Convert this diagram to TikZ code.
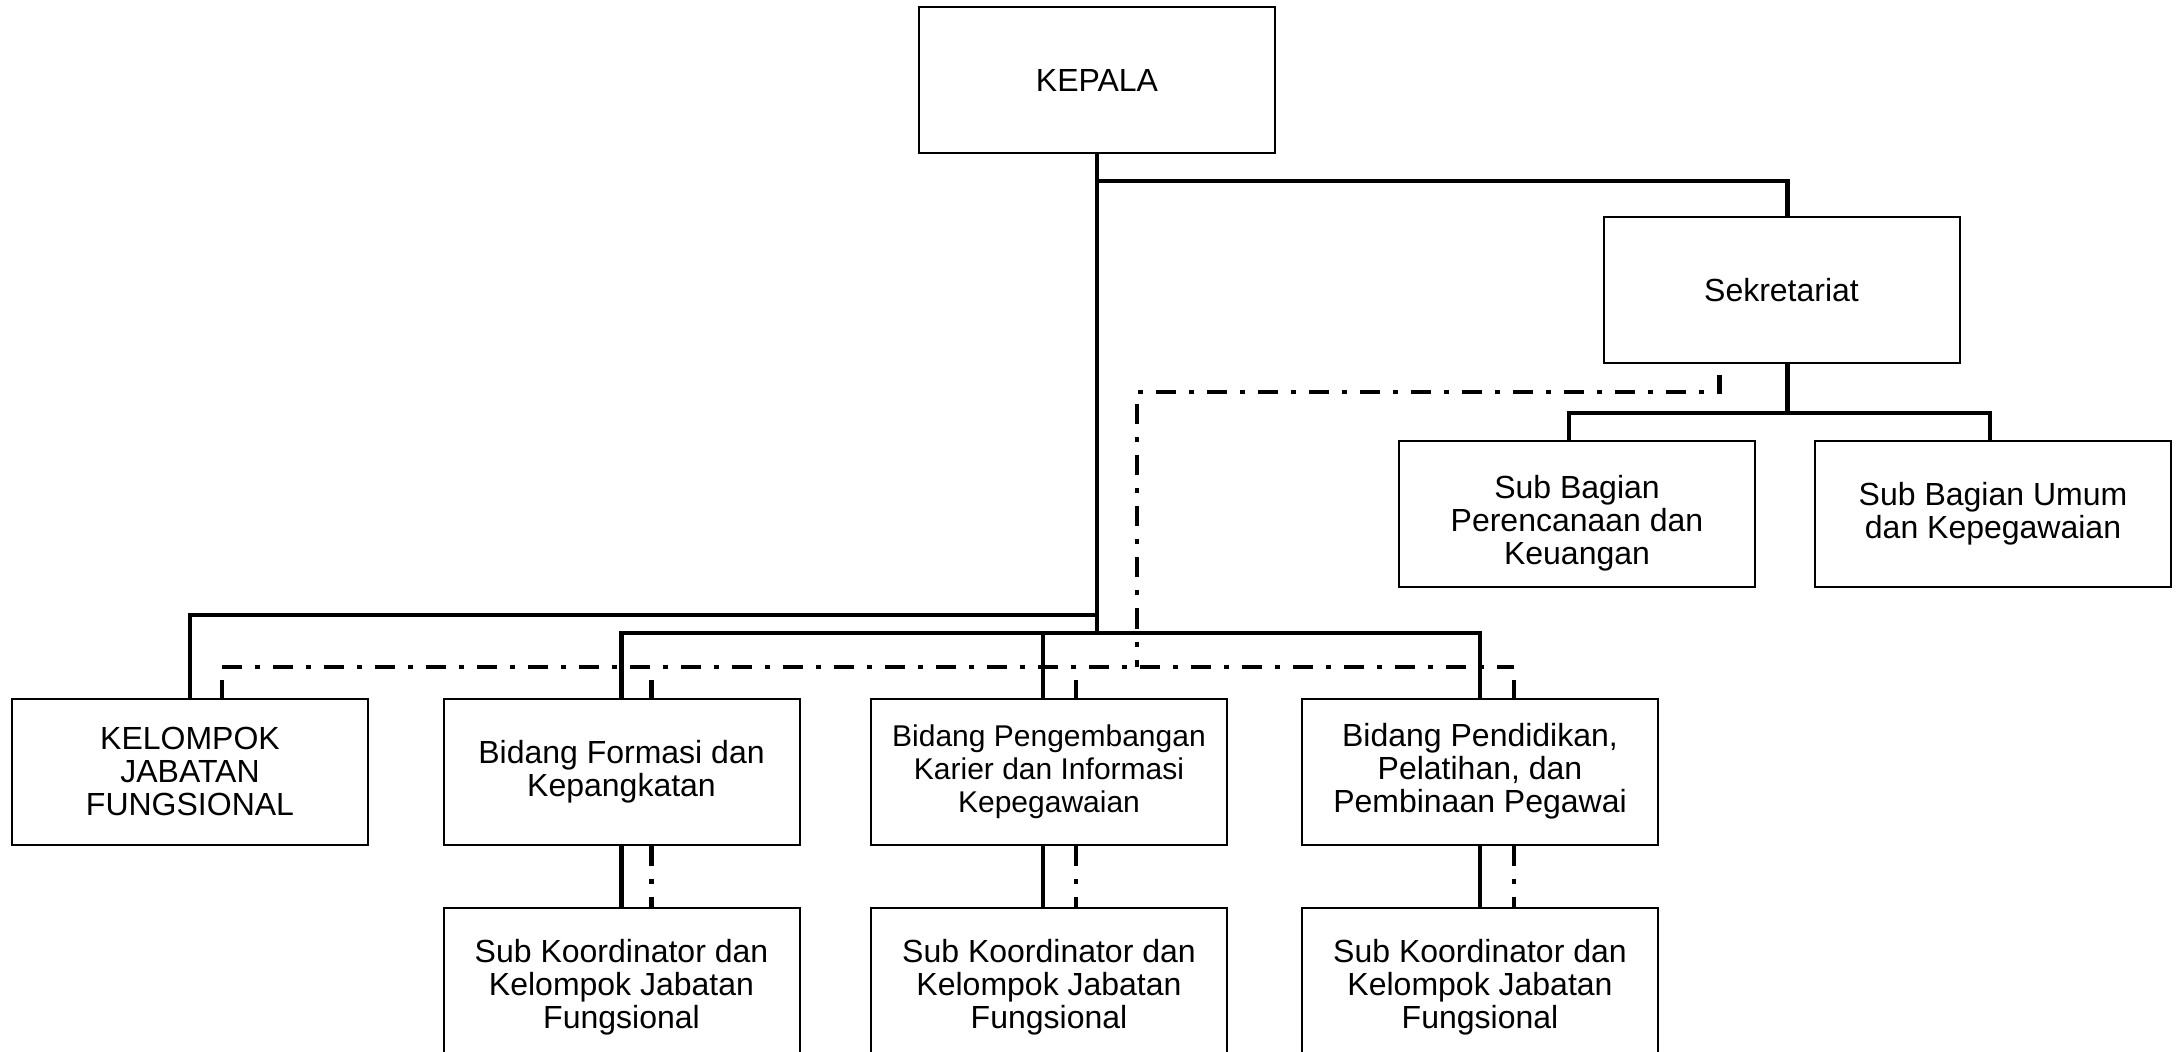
\documentclass[tikz,border=0pt]{standalone}
\usepackage{fontspec}
\setmainfont{Liberation Sans}

\begin{document}
\begin{tikzpicture}[x=0.5pt, y=-0.5pt,
    unit/.style={draw, line width=1pt, minimum width=178pt, minimum height=73pt,
        inner sep=0pt, align=center, font=\fontsize{16}{16.5}\selectfont},
    lowunit/.style={unit, minimum height=79pt},
    solidline/.style={line width=2.4pt},
    dashline/.style={line width=2.2pt, dash pattern=on 10pt off 6.5pt on 2.5pt off 6.5pt}]
    % White background, page size and clip for the cut-off bottom row
    \useasboundingbox (0,0) rectangle (2177,1052);
    \fill[white] (0,0) rectangle (2177,1052);
    \clip (0,0) rectangle (2177,1052);

    % Bar levels
    \coordinate (barS) at (0,181);
    \coordinate (barU) at (0,413);
    \coordinate (barA) at (0,615);
    \coordinate (barB) at (0,633);
    \coordinate (dashRow) at (0,667);
    \coordinate (dashBend) at (1137,392);

    % Units
    \node[unit] (kepala) at (1097,80.5) {KEPALA};
    \node[unit] (sekre) at (1781.5,290) {Sekretariat};
    \node[unit] (subPK) at (1577,514)
        {\raisebox{-5.5pt}[\height][\depth]{\begin{tabular}{@{}c@{}}Sub Bagian\\Perencanaan dan\\Keuangan\end{tabular}}};
    \node[unit] (subUK) at (1993,514) {Sub Bagian Umum\\dan Kepegawaian};
    \node[unit] (kjf) at (190,771.5) {KELOMPOK\\JABATAN\\FUNGSIONAL};
    \node[unit] (bidFK) at (621.5,771.5) {Bidang Formasi dan\\Kepangkatan};
    \node[unit, font=\fontsize{15}{16.5}\selectfont] (bidPK) at (1049,771.5)
        {Bidang Pengembangan\\Karier dan Informasi\\Kepegawaian};
    \node[unit] (bidPP) at (1480,771.5) {Bidang Pendidikan,\\Pelatihan, dan\\Pembinaan Pegawai};
    \node[lowunit] (skA) at (621.5,987) {Sub Koordinator dan\\Kelompok Jabatan\\Fungsional};
    \node[lowunit] (skB) at (1049,987) {Sub Koordinator dan\\Kelompok Jabatan\\Fungsional};
    \node[lowunit] (skC) at (1480,987) {Sub Koordinator dan\\Kelompok Jabatan\\Fungsional};

    % Line of command
    \coordinate (sekreN) at ([xshift=3pt]sekre.north);
    \coordinate (sekreS) at ([xshift=3pt]sekre.south);
    \coordinate (subPKN) at ([xshift=-4pt]subPK.north);
    \coordinate (subUKN) at ([xshift=-1.5pt]subUK.north);
    \coordinate (bidPKN) at ([xshift=-3pt]bidPK.north);
    \draw[solidline] (kepala.south) -- (kepala.south |- barB);
    \draw[solidline] (kepala.south |- barS) -| (sekreN);
    \draw[solidline] (sekreS) -- (sekreS |- barU);
    \draw[solidline] (subPKN) |- (subUKN |- barU) -- (subUKN);
    \draw[solidline] (kepala.south |- barA) -| (kjf.north);
    \draw[solidline] (bidFK.north) |- (bidPP.north |- barB) -- (bidPP.north);
    \draw[solidline] (bidPKN) -- (bidPKN |- barB);
    \foreach \b/\s/\dx in {bidFK/skA/0pt, bidPK/skB/-3pt, bidPP/skC/0pt}
        \draw[solidline] ([xshift=\dx]\b.south) -- ([xshift=\dx]\s.north);

    % Line of coordination
    \coordinate (kjfD) at ([xshift=16pt]kjf.north);
    \coordinate (bidFKD) at ([xshift=15pt]bidFK.north);
    \coordinate (bidPKD) at ([xshift=13.5pt]bidPK.north);
    \coordinate (bidPPD) at ([xshift=17pt]bidPP.north);
    \draw[dashline] ([xshift=-31pt, yshift=-5.5pt]sekre.south) |- (dashBend)
        -- (dashBend |- dashRow);
    \draw[dashline] (kjfD |- dashRow) -- (bidPPD |- dashRow);
    \foreach \d in {kjfD, bidFKD, bidPKD, bidPPD}
        \draw[dashline, dash phase=19pt] (\d |- dashRow) -- (\d);
    \foreach \b/\s/\dx in {bidFK/skA/15pt, bidPK/skB/13.5pt, bidPP/skC/17pt}
        \draw[dashline] ([xshift=\dx]\b.south) -- ([xshift=\dx]\s.north);
\end{tikzpicture}
\end{document}
